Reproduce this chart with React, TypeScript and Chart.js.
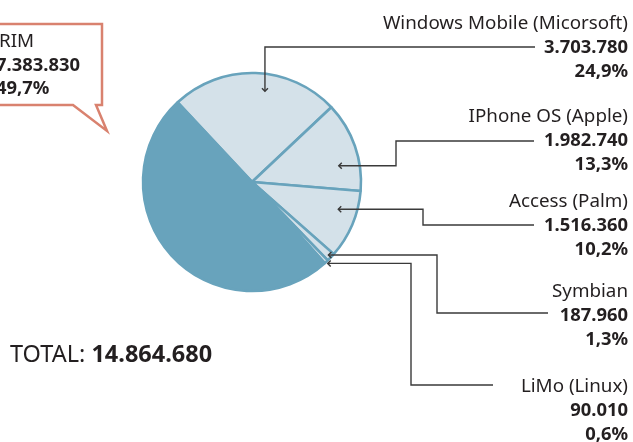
import React, { useEffect, useRef } from "react";
import { Chart, registerables } from "chart.js";

Chart.register(...registerables);

const categories = [
  "Windows Mobile (Micorsoft)",
  "IPhone OS (Apple)",
  "Access (Palm)",
  "Symbian",
  "LiMo (Linux)",
  "RIM",
];
const units = [3703780, 1982740, 1516360, 187960, 90010, 7383830];
const unitLabels = ["3.703.780", "1.982.740", "1.516.360", "187.960", "90.010", "7.383.830"];
const shareLabels = ["24,9%", "13,3%", "10,2%", "1,3%", "0,6%", "49,7%"];
const totalLabel = "14.864.680";

const DARK = "#68a3bc";
const LIGHT = "#d4e1e9";
const TEXT = "#231f20";
const LINE = "#3a3a3a";
const CALLOUT = "#d9826f";
const FONT = "'Noto Sans', sans-serif";

export default function App() {
  const ref = useRef<HTMLCanvasElement>(null);

  useEffect(() => {
    document.body.style.margin = "0";
    const canvas = ref.current!;

    const annotations = {
      id: "annotations",
      afterDraw(chart: any) {
        const ctx: CanvasRenderingContext2D = chart.ctx;
        const arcs = chart.getDatasetMeta(0).data;
        const tip = (i: number, f: number, rf: number) => {
          const a = arcs[i] as any;
          const ang = a.startAngle + (a.endAngle - a.startAngle) * f;
          const r = a.outerRadius * rf;
          return [a.x + Math.cos(ang) * r, a.y + Math.sin(ang) * r];
        };
        const arrowHead = (x: number, y: number, dir: "down" | "left") => {
          ctx.beginPath();
          const s = 3;
          if (dir === "down") { ctx.moveTo(x - s, y - s); ctx.lineTo(x, y); ctx.lineTo(x + s, y - s); }
          if (dir === "left") { ctx.moveTo(x + s, y - s); ctx.lineTo(x, y); ctx.lineTo(x + s, y + s); }
          ctx.stroke();
        };
        ctx.save();
        ctx.strokeStyle = LINE;
        ctx.lineWidth = 1.4;

        // Windows Mobile
        let [x, y] = tip(0, 0.57, 0.84);
        ctx.beginPath(); ctx.moveTo(535, 47); ctx.lineTo(x, 47); ctx.lineTo(x, y); ctx.stroke();
        arrowHead(x, y, "down");
        // iPhone
        [x, y] = tip(1, 0.68, 0.81);
        ctx.beginPath(); ctx.moveTo(x, y); ctx.lineTo(396, y); ctx.lineTo(396, 141); ctx.lineTo(534, 141); ctx.stroke();
        arrowHead(x, y, "left");
        // Access
        [x, y] = tip(2, 0.35, 0.83);
        ctx.beginPath(); ctx.moveTo(x, y); ctx.lineTo(423, y); ctx.lineTo(423, 225); ctx.lineTo(534, 225); ctx.stroke();
        arrowHead(x, y, "left");
        // Symbian
        [x, y] = tip(3, 0.5, 0.97);
        ctx.beginPath(); ctx.moveTo(x, y); ctx.lineTo(437, y); ctx.lineTo(437, 313); ctx.lineTo(548, 313); ctx.stroke();
        arrowHead(x, y, "left");
        // LiMo
        [x, y] = tip(4, 0.5, 1.02);
        ctx.beginPath(); ctx.moveTo(x, y); ctx.lineTo(411, y); ctx.lineTo(411, 385); ctx.lineTo(493, 385); ctx.stroke();
        arrowHead(x, y, "left");

        // Labels on the right
        const baselines = [29, 122, 207, 297, 392];
        ctx.fillStyle = TEXT;
        ctx.textAlign = "right";
        ctx.textBaseline = "alphabetic";
        for (let i = 0; i < 5; i++) {
          const b = baselines[i];
          ctx.font = `18.8px ${FONT}`;
          ctx.fillText(categories[i], 628, b);
          ctx.font = `bold 18.4px ${FONT}`;
          ctx.fillText(unitLabels[i], 628, b + 24);
          ctx.fillText(shareLabels[i], 628, b + 48);
        }

        // RIM callout
        ctx.fillStyle = "#ffffff";
        ctx.strokeStyle = CALLOUT;
        ctx.lineWidth = 2.5;
        ctx.beginPath();
        ctx.moveTo(-10, 24);
        ctx.lineTo(102, 24);
        ctx.lineTo(102, 105);
        ctx.lineTo(96, 105);
        ctx.lineTo(107, 131);
        ctx.lineTo(73, 105);
        ctx.lineTo(-10, 105);
        ctx.closePath();
        ctx.fill();
        ctx.stroke();
        ctx.fillStyle = TEXT;
        ctx.textAlign = "left";
        ctx.font = `18.8px ${FONT}`;
        ctx.fillText(categories[5], -1, 47);
        ctx.font = `bold 18.4px ${FONT}`;
        ctx.fillText(unitLabels[5], -4, 71);
        ctx.fillText(shareLabels[5], -4, 94);

        // Total
        ctx.font = `23.5px ${FONT}`;
        const pre = "TOTAL: ";
        ctx.fillText(pre, 10, 362);
        const w = ctx.measureText(pre).width;
        ctx.font = `bold 23.5px ${FONT}`;
        ctx.fillText(totalLabel, 10 + w, 362);
        ctx.restore();
      },
    };

    const chart = new Chart(canvas, {
      type: "pie",
      data: {
        labels: categories,
        datasets: [
          {
            data: units,
            backgroundColor: [LIGHT, LIGHT, LIGHT, LIGHT, LIGHT, DARK],
            borderColor: DARK,
            borderWidth: 2.6,
          },
        ],
      },
      options: {
        responsive: false,
        animation: false,
        rotation: -43,
        radius: 109,
        layout: { padding: { left: 0, right: 129, top: 0, bottom: 78 } },
        plugins: { legend: { display: false }, tooltip: { enabled: false } },
      },
      plugins: [annotations],
    });
    return () => chart.destroy();
  }, []);

  return (
    <div style={{ position: "absolute", left: 0, top: 0, width: 633, height: 442, background: "#fff" }}>
      <canvas ref={ref} width={633} height={442} />
    </div>
  );
}
